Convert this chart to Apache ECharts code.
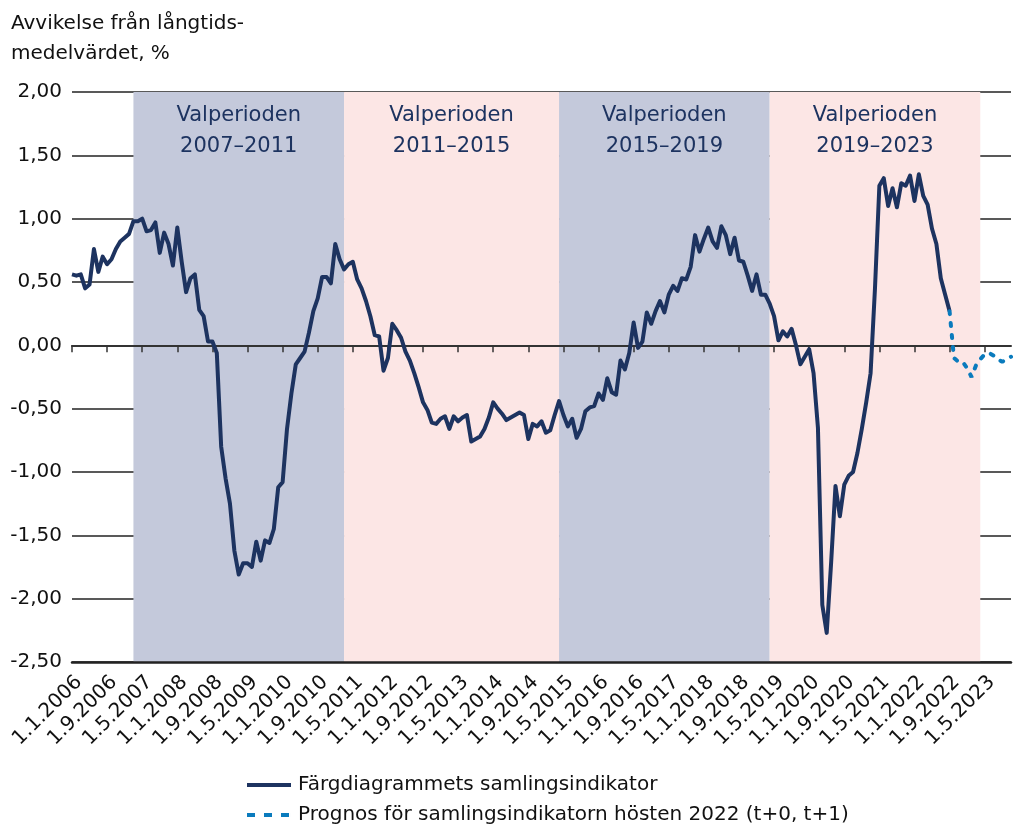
<!DOCTYPE html>
<html><head><meta charset="utf-8">
<script src="https://cdn.jsdelivr.net/npm/echarts@6/dist/echarts.min.js"></script>
<style>html,body{margin:0;padding:0;background:#fff}#c{width:1014px;height:825px}</style>
</head><body><div id="c"></div>
<script>
// ---- data ----
const startYear = 2006;
const monthCount = 215; // 1.1.2006 .. 1.11.2023
const categories = [];
for (let i = 0; i < monthCount; i++) {
  categories.push('1.' + (i % 12 + 1) + '.' + (startYear + Math.floor(i / 12)));
}
const indicator = [
  0.56, 0.55, 0.56, 0.45, 0.48, 0.76, 0.58, 0.70, 0.64, 0.68,
  0.76, 0.82, 0.85, 0.88, 0.98, 0.98, 1.00, 0.90, 0.91, 0.97,
  0.73, 0.89, 0.80, 0.63, 0.93, 0.66, 0.42, 0.53, 0.56, 0.28,
  0.23, 0.03, 0.03, -0.06, -0.80, -1.05, -1.25, -1.62, -1.81, -1.72,
  -1.72, -1.75, -1.55, -1.70, -1.54, -1.56, -1.45, -1.12, -1.08, -0.66,
  -0.38, -0.15, -0.10, -0.05, 0.10, 0.27, 0.37, 0.54, 0.54, 0.49,
  0.80, 0.68, 0.60, 0.64, 0.66, 0.52, 0.45, 0.35, 0.23, 0.08,
  0.07, -0.20, -0.10, 0.17, 0.12, 0.06, -0.05, -0.12, -0.22, -0.33,
  -0.45, -0.51, -0.61, -0.62, -0.58, -0.56, -0.66, -0.56, -0.60, -0.57,
  -0.55, -0.76, -0.74, -0.72, -0.66, -0.57, -0.45, -0.50, -0.54, -0.59,
  -0.57, -0.55, -0.53, -0.55, -0.74, -0.62, -0.64, -0.60, -0.69, -0.67,
  -0.55, -0.44, -0.55, -0.64, -0.58, -0.73, -0.66, -0.52, -0.49, -0.48,
  -0.38, -0.43, -0.26, -0.37, -0.39, -0.12, -0.19, -0.06, 0.18, -0.02,
  0.03, 0.26, 0.17, 0.27, 0.35, 0.26, 0.40, 0.47, 0.43, 0.53,
  0.52, 0.62, 0.87, 0.74, 0.84, 0.93, 0.82, 0.77, 0.94, 0.87,
  0.72, 0.85, 0.67, 0.66, 0.55, 0.43, 0.56, 0.40, 0.40, 0.33,
  0.23, 0.04, 0.11, 0.07, 0.13, 0.00, -0.15, -0.09, -0.03, -0.22,
  -0.65, -2.05, -2.27, -1.72, -1.11, -1.35, -1.10, -1.03, -1.00, -0.85,
  -0.66, -0.45, -0.22, 0.45, 1.26, 1.32, 1.10, 1.24, 1.09, 1.28,
  1.26, 1.34, 1.14, 1.35, 1.18, 1.11, 0.92, 0.80, 0.53, 0.40,
  0.27
];
const forecastStart = 200; // 1.9.2022
const forecast = [0.27, -0.10, -0.13, -0.13, -0.18, -0.25, -0.16, -0.11, -0.07, -0.06, -0.08, -0.11, -0.13, -0.11, -0.09];
const yTickValues = [-2.5, -2, -1.5, -1, -0.5, 0, 0.5, 1, 1.5, 2];
const yTickLabels = ['-2,50', '-2,00', '-1,50', '-1,00', '-0,50', '0,00', '0,50', '1,00', '1,50', '2,00'];
const periodNames = ['Valperioden\n2007–2011', 'Valperioden\n2011–2015', 'Valperioden\n2015–2019', 'Valperioden\n2019–2023'];
const periodStart = ['1.3.2007', '1.3.2011', '1.4.2015', '1.4.2019'];
const periodEnd = ['1.3.2011', '1.4.2015', '1.4.2019', '1.4.2023'];
const seriesNames = ['Färgdiagrammets samlingsindikator', 'Prognos för samlingsindikatorn hösten 2022 (t+0, t+1)'];

// ---- build ----
const indicatorFull = categories.map((c, i) => i < indicator.length ? indicator[i] : null);
const forecastFull = categories.map((c, i) => (i >= forecastStart && i - forecastStart < forecast.length) ? forecast[i - forecastStart] : null);
const bandColors = ['#c4c9db', '#fce6e5'];
const FONT = 'DejaVu Sans';
const textColor = '#111';
const navy = '#1d3360';
const blue = '#0a7bbd';

const bandData = periodNames.map((n, i) => [
  { name: n, xAxis: periodStart[i], yAxis: 2, itemStyle: { color: bandColors[i % 2] } },
  { xAxis: periodEnd[i], yAxis: -2.5 }
]);

const legendCommon = {
  orient: 'vertical', left: 242, itemWidth: 44, itemHeight: 4,
  textStyle: { fontFamily: FONT, fontSize: 20, color: textColor, padding: [0, 0, 0, 2] }
};

const chart = echarts.init(document.getElementById('c'), null, { renderer: 'canvas' });
chart.setOption({
  animation: false,
  textStyle: { fontFamily: FONT },
  title: {
    text: 'Avvikelse från långtids-\nmedelvärdet, %',
    left: 6, top: 4,
    textStyle: { fontFamily: FONT, fontSize: 20, fontWeight: 'normal', color: textColor, lineHeight: 30 }
  },
  grid: { left: 72, right: 3, top: 92, bottom: 163, containLabel: false },
  legend: [
    Object.assign({}, legendCommon, {
      top: 770,
      data: [{ name: seriesNames[0], icon: 'path://M0,0H44V4H0Z' }]
    }),
    Object.assign({}, legendCommon, {
      top: 800,
      data: [{ name: seriesNames[1], icon: 'path://M0,0H8V4H0Z M17,0H25V4H17Z M34,0H42V4H34Z M44,0H44.01V4H44Z' }]
    })
  ],
  xAxis: [
    {
      type: 'category', data: categories, boundaryGap: false, z: 3,
      axisLine: { onZero: false, lineStyle: { color: '#222', width: 2.5 } },
      axisTick: { show: false },
      axisLabel: { interval: 7, rotate: 45, fontFamily: FONT, fontSize: 20, color: textColor, margin: 10, verticalAlign: 'top' },
      splitLine: { show: false }
    },
    {
      type: 'category', data: categories, boundaryGap: false, z: 3, position: 'bottom',
      axisLine: { onZero: true, lineStyle: { color: '#333', width: 2 } },
      axisTick: { show: true, interval: 7, length: 7, lineStyle: { color: '#333', width: 1.5 } },
      axisLabel: { show: false },
      splitLine: { show: false }
    }
  ],
  yAxis: {
    type: 'value', min: -2.5, max: 2, interval: 0.5, z: 0,
    axisLine: { show: false }, axisTick: { show: false },
    axisLabel: {
      fontFamily: FONT, fontSize: 20, color: textColor, margin: 10,
      formatter: v => { const k = yTickValues.findIndex(t => Math.abs(t - v) < 1e-9); return k >= 0 ? yTickLabels[k] : ''; }
    },
    splitLine: { show: true, lineStyle: { color: '#222', width: 1.5 } }
  },
  series: [
    {
      name: 'bands', type: 'line', data: [], z: 1, silent: true,
      markArea: {
        silent: true,
        label: {
          show: true, position: 'insideTop', distance: 8,
          fontFamily: FONT, fontSize: 21, lineHeight: 31, color: navy, align: 'center'
        },
        data: bandData
      }
    },
    {
      name: seriesNames[0], type: 'line', data: indicatorFull, z: 5,
      symbol: 'none', showSymbol: false, connectNulls: false,
      lineStyle: { color: navy, width: 4, join: 'round' },
      itemStyle: { color: navy }
    },
    {
      name: seriesNames[1], type: 'line', data: forecastFull, z: 5,
      symbol: 'none', showSymbol: false,
      lineStyle: { color: blue, width: 4, type: [3, 9], cap: 'round' },
      itemStyle: { color: blue }
    }
  ]
});
</script>
</body></html>
